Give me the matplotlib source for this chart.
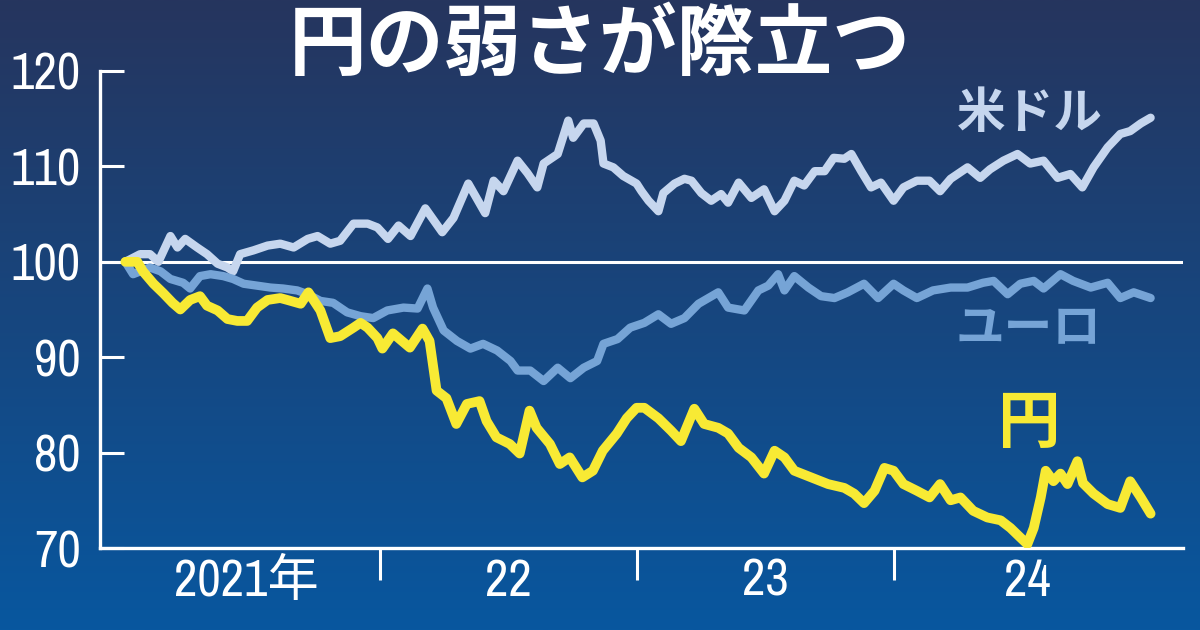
import matplotlib
matplotlib.use("Agg")
import matplotlib.pyplot as plt
from matplotlib import font_manager as fm
import numpy as np
import pandas as pd

plt.rcParams['font.family'] = ['Noto Sans CJK JP', 'DejaVu Sans']

# 円・米ドル・ユーロの実効為替レート（2021年初=100）
yen_dates = [
    "2021-01-04", "2021-01-21", "2021-01-29", "2021-02-13", "2021-02-27", "2021-03-12", "2021-03-23",
    "2021-04-06", "2021-04-20", "2021-04-30", "2021-05-15", "2021-05-29", "2021-06-12", "2021-06-26",
    "2021-07-10", "2021-07-25", "2021-08-12", "2021-08-22", "2021-09-10", "2021-09-21", "2021-10-08",
    "2021-10-22", "2021-11-05", "2021-11-24", "2021-12-04", "2021-12-14", "2021-12-28",
    "2022-01-04", "2022-01-19", "2022-02-12", "2022-03-02", "2022-03-12", "2022-03-22", "2022-04-05",
    "2022-04-19", "2022-05-04", "2022-05-22", "2022-06-01", "2022-06-15", "2022-07-04", "2022-07-18",
    "2022-08-01", "2022-08-11", "2022-08-30", "2022-09-13", "2022-09-27", "2022-10-15", "2022-10-30",
    "2022-11-13", "2022-12-03", "2022-12-17", "2022-12-31",
    "2023-01-11", "2023-01-31", "2023-02-18", "2023-03-04", "2023-03-23", "2023-04-06", "2023-04-26",
    "2023-05-10", "2023-05-25", "2023-06-12", "2023-06-30", "2023-07-15", "2023-07-29", "2023-08-12",
    "2023-09-05", "2023-09-29", "2023-10-22", "2023-11-05", "2023-11-19", "2023-12-04", "2023-12-18",
    "2023-12-31",
    "2024-01-14", "2024-02-02", "2024-02-20", "2024-03-06", "2024-03-21", "2024-04-04", "2024-04-22",
    "2024-05-12", "2024-05-31", "2024-06-14", "2024-06-28", "2024-07-08", "2024-07-17", "2024-07-27",
    "2024-08-03", "2024-08-14", "2024-08-24", "2024-09-03", "2024-09-17", "2024-09-25", "2024-10-10",
    "2024-10-30", "2024-11-17", "2024-12-01", "2024-12-16", "2024-12-30",
]
yen_values = [
    100, 100, 99, 97.7, 96.7, 95.7, 95, 96, 96.4, 95.4, 94.9, 94, 93.8, 93.8,
    95.2, 96, 96.2, 96, 95.6, 96.8, 94.9, 92, 92.2, 93.1, 93.6, 93.1, 92,
    90.9, 92.5, 91, 93, 91.7, 86.5, 85.7, 83, 85.1, 85.4, 83.3, 81.6, 80.9, 79.9,
    84.4, 82.6, 80.9, 78.8, 79.5, 77.4, 78.1, 80.2, 82, 83.6, 84.7,
    84.7, 83.6, 82.3, 81.2, 84.6, 83, 82.6, 82, 80.5, 79.5, 77.8, 80.2, 79.5, 78.1,
    77.4, 76.7, 76.3, 75.7, 74.7, 76, 78.4, 78.1,
    76.7, 76, 75.3, 76.7, 75, 75.3, 73.9, 73.2, 72.9, 72.1, 71.1, 70.4, 72.1, 75.3,
    78.1, 77, 77.8, 76.7, 79.1, 76.8, 75.7, 74.6, 74.2, 77, 75.3, 73.6,
]

usd_dates = [
    "2021-01-04", "2021-01-25", "2021-02-08", "2021-02-20", "2021-03-09", "2021-03-19", "2021-03-30",
    "2021-04-16", "2021-04-30", "2021-05-15", "2021-05-29", "2021-06-06", "2021-06-16", "2021-07-05",
    "2021-07-25", "2021-08-12", "2021-08-31", "2021-09-20", "2021-10-04", "2021-10-22", "2021-11-05",
    "2021-11-24", "2021-12-14", "2021-12-28",
    "2022-01-12", "2022-01-27", "2022-02-13", "2022-03-06", "2022-03-30", "2022-04-15", "2022-05-06",
    "2022-05-30", "2022-06-11", "2022-06-25", "2022-07-15", "2022-07-29", "2022-08-12", "2022-08-21",
    "2022-09-10", "2022-09-25", "2022-10-02", "2022-10-17", "2022-10-31", "2022-11-10", "2022-11-14",
    "2022-11-28", "2022-12-12", "2022-12-31",
    "2023-01-07", "2023-01-17", "2023-01-31", "2023-02-07", "2023-02-23", "2023-03-09", "2023-03-19",
    "2023-04-02", "2023-04-16", "2023-04-30", "2023-05-10", "2023-05-25", "2023-06-12", "2023-06-30",
    "2023-07-15", "2023-07-29", "2023-08-12", "2023-08-26", "2023-09-10", "2023-09-24", "2023-10-07",
    "2023-10-22", "2023-11-01", "2023-11-15", "2023-11-29", "2023-12-13", "2023-12-31",
    "2024-01-14", "2024-02-02", "2024-02-20", "2024-03-06", "2024-03-21", "2024-04-14", "2024-05-02",
    "2024-05-16", "2024-06-04", "2024-06-24", "2024-07-12", "2024-07-31", "2024-08-20", "2024-09-07",
    "2024-09-24", "2024-10-10", "2024-10-30", "2024-11-17", "2024-12-01", "2024-12-16", "2024-12-30",
]
usd_values = [
    100, 100.8, 100.8, 100, 102.7, 101.5, 102.4, 101.5, 100.8, 99.8, 99.4, 99, 100.8, 101.2,
    101.7, 101.9, 101.5, 102.4, 102.7, 101.9, 102.2, 104, 104, 103.6,
    102.4, 103.8, 102.7, 105.6, 103.1, 104.6, 108.2, 105.1, 108.5, 107.4, 110.6, 109.3, 107.8, 110.3,
    111.3, 114.8, 113, 114.5, 114.5, 112.7, 110.3, 109.9, 109, 108.2,
    107.4, 106.4, 105.3, 107.2, 108.2, 108.7, 108.5, 107.2, 106.4, 107.1, 106.2, 108.3, 106.7, 107.6,
    105.3, 106.4, 108.5, 108, 109.5, 109.5, 110.9, 110.8, 111.3, 109.5, 107.8, 108.3, 106.4,
    107.8, 108.5, 108.5, 107.4, 108.7, 109.9, 108.8, 109.7, 110.6, 111.3, 110.3, 110.6, 108.8, 109.2,
    107.8, 109.9, 112, 113.4, 113.7, 114.5, 115.1,
]

eur_dates = [
    "2021-01-04", "2021-01-15", "2021-02-08", "2021-02-23", "2021-03-09", "2021-03-27", "2021-04-06",
    "2021-04-20", "2021-05-05", "2021-05-23", "2021-06-06", "2021-06-21", "2021-07-10", "2021-07-29",
    "2021-08-16", "2021-09-05", "2021-09-20", "2021-10-08", "2021-10-26", "2021-11-15", "2021-12-04",
    "2021-12-22",
    "2022-01-11", "2022-02-03", "2022-02-23", "2022-03-09", "2022-03-17", "2022-04-01", "2022-04-20",
    "2022-05-09", "2022-05-27", "2022-06-16", "2022-07-05", "2022-07-15", "2022-08-02", "2022-08-21",
    "2022-09-10", "2022-09-28", "2022-10-17", "2022-11-05", "2022-11-14", "2022-12-04", "2022-12-22",
    "2023-01-11", "2023-01-31", "2023-02-18", "2023-03-09", "2023-03-29", "2023-04-26", "2023-05-10",
    "2023-06-02", "2023-06-22", "2023-07-06", "2023-07-20", "2023-07-29", "2023-08-12", "2023-09-01",
    "2023-09-19", "2023-10-08", "2023-10-27", "2023-11-19", "2023-12-09", "2023-12-31",
    "2024-01-14", "2024-02-02", "2024-02-25", "2024-03-21", "2024-04-14", "2024-05-06", "2024-05-21",
    "2024-06-10", "2024-06-28", "2024-07-17", "2024-07-31", "2024-08-24", "2024-09-11", "2024-10-06",
    "2024-10-30", "2024-11-17", "2024-12-06", "2024-12-30",
]
eur_values = [
    100, 98.7, 99.4, 99, 98.2, 97.8, 97.2, 98.5, 98.7, 98.5, 98.2, 97.7, 97.5, 97.3,
    97.2, 97, 96.6, 95.9, 95.7, 94.7, 94.3, 94.1,
    94.9, 95.2, 95.1, 97.2, 95.2, 92.8, 91.7, 90.9, 91.4, 90.7, 89.6, 88.6, 88.6, 87.5,
    88.9, 87.8, 88.9, 89.6, 91.4, 91.9, 93.1,
    93.6, 94.5, 93.5, 94.1, 95.6, 96.8, 95.2, 94.9, 97, 97.5, 98.7, 97, 98.5, 97.3,
    96.4, 96.2, 96.8, 97.7, 96.2, 97.7,
    97, 96.2, 97, 97.3, 97.3, 97.8, 98, 96.6, 97.7, 98, 97.2, 98.7, 98, 97.3,
    97.8, 96.2, 96.8, 96.2,
]

y_ticks = [70, 80, 90, 100, 110, 120]
year_ticks = ["2022-01-01", "2023-01-01", "2024-01-01"]
year_label_pos = ["2021-06-25", "2022-07-02", "2023-07-02", "2024-07-08"]
year_labels = ["2021年", "22", "23", "24"]

# 目盛りの数字は細身の書体で（あるものを使う）
installed = {f.name for f in fm.fontManager.ttflist}
num_family = 'Liberation Sans'
for cand in ['Archivo Narrow', 'Liberation Sans Narrow', 'Barlow Condensed', 'Asap Condensed']:
    if cand in installed:
        num_family = cand
        break
num_weight = 'normal'
num_fonts = [num_family, 'Noto Sans CJK JP']

fig = plt.figure(figsize=(12, 6.3), dpi=100)
renderer = fig.canvas.get_renderer()

# 「120」の幅が約70pxに収まるサイズ
probe = fig.text(0, 0, "120", family=num_fonts, weight=num_weight, fontsize=37)
w = probe.get_window_extent(renderer).width
probe.remove()
num_size = 37 * min(1.0, 70 / w)

# 背景のグラデーション
bg = fig.add_axes([0, 0, 1, 1], zorder=-10)
top_c = np.array([38, 53, 94]) / 255
bot_c = np.array([8, 87, 159]) / 255
t = np.linspace(0, 1, 256)[:, None]
grad = top_c[None, None, :] * (1 - t[:, :, None]) + bot_c[None, None, :] * t[:, :, None]
bg.imshow(grad, aspect='auto', extent=[0, 1, 0, 1])
bg.axis('off')

ax = fig.add_axes([100 / 1200, 1 - 548 / 630, 1083 / 1200, 477 / 630])
ax.patch.set_alpha(0)

ax.axhline(100, color='white', lw=2.2, zorder=2)
ax.plot(pd.to_datetime(usd_dates), usd_values, color='#c6d6ee', lw=6,
        solid_joinstyle='round', solid_capstyle='round', zorder=3)
ax.plot(pd.to_datetime(eur_dates), eur_values, color='#76a4d6', lw=6,
        solid_joinstyle='round', solid_capstyle='round', zorder=4)
ax.plot(pd.to_datetime(yen_dates), yen_values, color='#f8ea34', lw=7,
        solid_joinstyle='round', solid_capstyle='round', zorder=5)

ax.set_ylim(70, 120)
ax.set_xlim(pd.Timestamp("2020-11-29"), pd.Timestamp("2025-02-14"))

for s in ['top', 'right']:
    ax.spines[s].set_visible(False)
for s in ['left', 'bottom']:
    ax.spines[s].set_color('white')
    ax.spines[s].set_linewidth(2.4)

ax.set_yticks(y_ticks)
ax.tick_params(axis='y', direction='in', length=17, width=2.2, color='white',
               labelcolor='white', pad=14)
for lab in ax.get_yticklabels():
    lab.set_fontfamily(num_fonts)
    lab.set_fontweight(num_weight)
    lab.set_fontsize(num_size)

ax.set_xticks(pd.to_datetime(year_ticks))
ax.set_xticklabels([])
ax.set_xticks(pd.to_datetime(year_label_pos), minor=True)
ax.set_xticklabels(year_labels, minor=True)
ax.tick_params(axis='x', which='major', direction='out', length=23, width=2.2, color='white')
ax.tick_params(axis='x', which='minor', length=0, labelcolor='white', pad=7)
for lab in ax.get_xticklabels(minor=True):
    lab.set_fontfamily(num_fonts)
    lab.set_fontweight(num_weight)
    lab.set_fontsize(num_size)

fig.text(0.5, 1 - 46 / 630, "円の弱さが際立つ", color='white', fontsize=56,
         fontweight='bold', ha='center', va='center')
fig.text(1030 / 1200, 1 - 113 / 630, "米ドル", color='#c6d6ee', fontsize=35,
         fontweight='bold', ha='center', va='center')
fig.text(1028 / 1200, 1 - 329 / 630, "ユーロ", color='#76a4d6', fontsize=35,
         fontweight='bold', ha='center', va='center')
fig.text(1029 / 1200, 1 - 423 / 630, "円", color='#f8ea34', fontsize=45,
         fontweight='bold', ha='center', va='center')

fig.savefig("out.png", dpi=100)
